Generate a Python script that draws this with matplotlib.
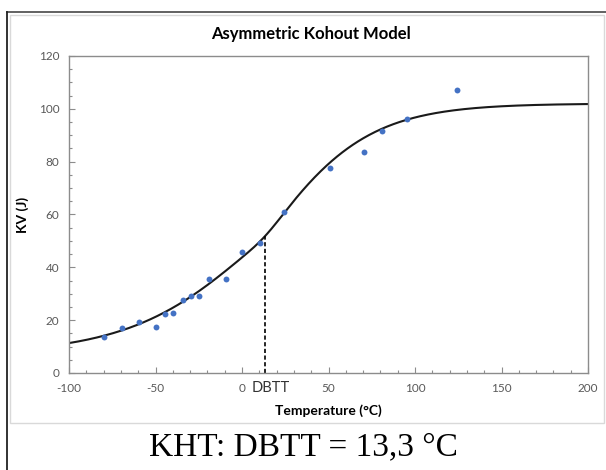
import numpy as np
import matplotlib.pyplot as plt
from matplotlib.patches import Rectangle
from matplotlib.ticker import MultipleLocator

# measured Charpy points
temp = [-79.6, -69.3, -59.3, -49.7, -44.3, -39.7, -34.2, -29.4, -24.6, -19.2,
        -9.3, 0.2, 10.6, 24.3, 51.1, 70.4, 81.1, 95.1, 124.1]
kv = [13.6, 17.1, 19.3, 17.5, 22.2, 22.7, 27.7, 29.0, 29.0, 35.6,
      35.4, 45.8, 49.1, 60.8, 77.5, 83.5, 91.6, 96.1, 107.3]

# fitted asymmetric model parameters
dbtt = 13.3
kv_dbtt = 51.8
lower_shelf = 7.0
upper_shelf = 102.0
c_low = 76.0
c_up = 60.0
blend = 6.0

xticks = [-100, -50, 0, 50, 100, 150, 200]
xticklabels = ['-100', '-50', '0', '50', '100', '150', '200']
yticks = [0, 20, 40, 60, 80, 100, 120]


def kohout(t):
    t = np.asarray(t, dtype=float)
    low = kv_dbtt + (kv_dbtt - lower_shelf) * np.tanh((t - dbtt) / c_low)
    up = kv_dbtt + (upper_shelf - kv_dbtt) * np.tanh((t - dbtt) / c_up)
    w = 1.0 / (1.0 + np.exp(-(t - dbtt) / blend))
    return (1 - w) * low + w * up


fig = plt.figure(figsize=(6.06, 4.70), dpi=100)
ax = fig.add_axes([0.1139, 0.2064, 0.8564, 0.6745])

# slide frame and chart area
fig.add_artist(Rectangle((10 / 606, 1 - 423 / 470), 594 / 606, 408 / 470,
                         transform=fig.transFigure, fill=False,
                         edgecolor='#d9d9d9', lw=1))
fig.add_artist(plt.Line2D([7 / 606, 1], [1 - 12 / 470] * 2,
                          transform=fig.transFigure, color='#555555', lw=1.3))
fig.add_artist(plt.Line2D([7 / 606] * 2, [0, 1 - 12 / 470],
                          transform=fig.transFigure, color='#222222', lw=1.3))

tt = np.linspace(-100, 200, 601)
ax.plot(tt, kohout(tt), color='#1a1a1a', lw=1.5, zorder=2)
ax.scatter(temp, kv, s=18, color='#4472C4', zorder=3, linewidths=0)
ax.plot([dbtt, dbtt], [0, float(kohout(dbtt))], color='black', lw=1.2,
        ls=(0, (2.5, 1.5)), zorder=2)

ax.set_xlim(-100, 200)
ax.set_ylim(0, 120)
ax.set_xticks(xticks)
ax.set_xticklabels(xticklabels)
ax.set_yticks(yticks)
ax.xaxis.set_minor_locator(MultipleLocator(10))
ax.yaxis.set_minor_locator(MultipleLocator(5))

for s in ax.spines.values():
    s.set_color('#8c8c8c')
    s.set_linewidth(1.0)
ax.tick_params(which='both', direction='in', color='#8c8c8c',
               labelcolor='#595959', labelsize=8.5, width=0.8)
ax.tick_params(which='major', length=4, pad=7)
ax.tick_params(which='minor', length=2.5)
for lab in ax.get_xticklabels() + ax.get_yticklabels():
    lab.set_family('Lato')

ax.text(5.5, -0.046, 'DBTT', transform=ax.get_xaxis_transform(),
        ha='left', va='center', fontsize=10.5, color='#333333', family='Lato')

fig.text(311 / 606, 1 - 34 / 470, 'Asymmetric Kohout Model', fontsize=12,
         fontweight='bold', family='Lato', ha='center', va='center')
ax.set_xlabel('Temperature (°C)', fontsize=10, fontweight='bold',
              family='Lato', labelpad=8)
ax.set_ylabel('KV (J)', fontsize=10, fontweight='bold', family='Lato',
              labelpad=7)

fig.text(0.5, 1 - 447 / 470, 'KHT: DBTT = 13,3 °C', ha='center', va='center',
         fontsize=24, family='Liberation Serif', color='black')

fig.savefig('out.png', dpi=100)
